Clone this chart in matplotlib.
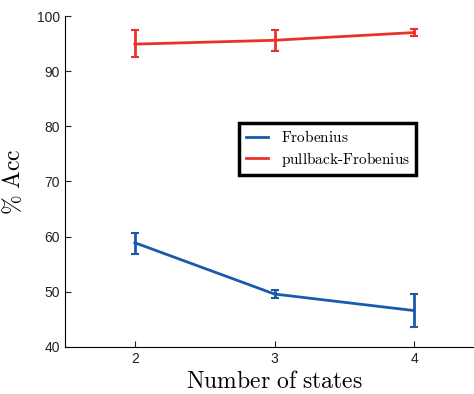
import numpy as np
import matplotlib.pyplot as plt

plt.rcParams['mathtext.fontset'] = 'cm'
plt.rcParams['font.family'] = 'Liberation Sans'

states = [2, 3, 4]
frob = [58.9, 49.6, 46.6]
frob_lo = [56.9, 48.8, 43.6]
frob_hi = [60.7, 50.4, 49.6]
pull = [94.9, 95.6, 97.0]
pull_lo = [92.5, 93.6, 96.3]
pull_hi = [97.4, 97.4, 97.6]

blue = '#1a5aab'
red = '#ea3328'

fig = plt.figure(figsize=(4.74, 3.94), dpi=100)
ax = fig.add_axes([65/474, 47/394, 419/474, 331/394])

def draw(y, lo, hi, col, lab):
    y = np.array(y)
    err = [y - np.array(lo), np.array(hi) - y]
    ax.errorbar(states, y, yerr=err, color=col, lw=2, elinewidth=2,
                capsize=3, capthick=1.5, label=lab)

draw(frob, frob_lo, frob_hi, blue, 'Frobenius')
draw(pull, pull_lo, pull_hi, red, 'pullback-Frobenius')

ax.set_xlim(1.5, 4.5)
ax.set_ylim(40, 100)
ax.set_xticks(states)
ax.set_yticks([40, 50, 60, 70, 80, 90, 100])
ax.tick_params(direction='in', length=4, labelsize=10, colors='#222222')
ax.spines['top'].set_visible(False)
ax.spines['right'].set_visible(False)
ax.set_xlabel(r'$\mathrm{Number\ of\ states}$', fontsize=17, labelpad=4)
ax.set_ylabel(r'$\%\ \mathrm{Acc}$', fontsize=17)
ax.yaxis.set_label_coords(-0.095, 0.5)

handles, labels = ax.get_legend_handles_labels()
handles = [h[0] for h in handles]
leg = ax.legend(handles, [r'$\mathrm{Frobenius}$', r'$\mathrm{pullback\text{-}Frobenius}$'],
                loc='upper left', bbox_to_anchor=(0.398, 0.7), fancybox=False,
                framealpha=1, edgecolor='black', fontsize=11, handlelength=1.5,
                borderpad=0.4, labelspacing=0.3)
leg.get_frame().set_linewidth(2.5)

fig.savefig('out.png')
